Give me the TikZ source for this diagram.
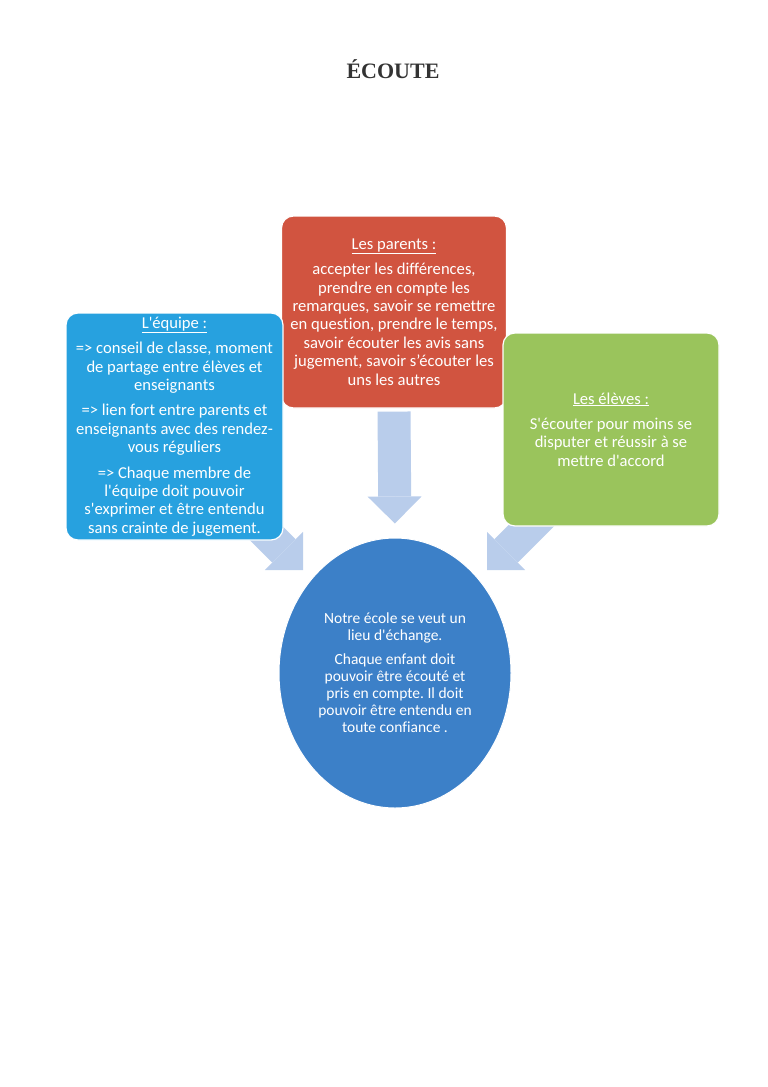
\documentclass[tikz,border=0pt]{standalone}
\usepackage{fontspec}
\setmainfont{Liberation Serif}
\newfontfamily\cf{Carlito}[Ligatures={TeXOff,CommonOff}]
\usetikzlibrary{shapes.geometric,arrows.meta,backgrounds}
\frenchspacing
\definecolor{arrowblue}{HTML}{B9CDEB}
\definecolor{boxblue}{HTML}{27A1DF}
\definecolor{boxred}{HTML}{D15440}
\definecolor{boxgreen}{HTML}{9AC45C}
\definecolor{ellblue}{HTML}{3C80C8}
\definecolor{titlegray}{HTML}{333333}
\tikzset{
  box/.style={draw=white, line width=1.2pt, rounded corners=12pt, text=white,
    align=center, inner sep=0pt,
    font=\cf\frenchspacing\fontsize{16.6}{18.4}\selectfont},
  ellbox/.style={ellipse, draw=white, line width=1pt, fill=ellblue, text=white,
    align=center, inner sep=0pt,
    font=\cf\frenchspacing\fontsize{15.5}{17}\selectfont},
  bigarrow/.style={draw=arrowblue, line width=33pt,
    -{Triangle[width=54pt 0 0, length=27pt 0 0, line width=0pt]}},
}
\begin{document}
\begin{tikzpicture}[x=1pt,y=-1pt]
\useasboundingbox (0,0) rectangle (768,1087);
\node[anchor=base, text=titlegray, font=\bfseries\fontsize{22}{26}\selectfont] (title) at (393,78) {ÉCOUTE};

\node[box, fill=boxred, minimum width=225pt, minimum height=192pt] (parents) at (394,312)
{\underline{Les parents :}\\[7pt]
accepter les différences,\\
prendre en compte les\\
remarques, savoir se remettre\\
en question, prendre le temps,\\
savoir écouter les avis sans\\
jugement, savoir s’écouter les\\
uns les autres};

\node[box, fill=boxblue, minimum width=217pt, minimum height=227pt] (equipe) at (174.5,426.5)
{\underline{L'équipe :}\\[7pt]
=> conseil de classe, moment\\
de partage entre élèves et\\
enseignants\\[7pt]
=> lien fort entre parents et\\
enseignants avec des rendez-\\
vous réguliers\\[7pt]
=> Chaque membre de\\
l'équipe doit pouvoir\\
s'exprimer et être entendu\\
sans crainte de jugement.};

\node[box, fill=boxgreen, minimum width=216pt, minimum height=193pt] (eleves) at (611,429.5)
{\underline{Les élèves :}\\[7pt]
S'écouter pour moins se\\
disputer et réussir à se\\
mettre d'accord};

\node[ellbox, minimum width=232pt, minimum height=270pt] (ecole) at (395,673)
{Notre école se veut un\\
lieu d'échange.\\[7pt]
Chaque enfant doit\\
pouvoir être écouté et\\
pris en compte. Il doit\\
pouvoir être entendu en\\
toute confiance .};

\coordinate (ltail) at (240,507);
\coordinate (ltip) at (303,570);
\coordinate (rtail) at (545,512);
\coordinate (rtip) at (487,570);

\begin{scope}[on background layer]
\draw[bigarrow, shorten <=3pt, shorten >=14pt] (parents.south) -- (ecole.north);
\draw[bigarrow] (ltail) -- (ltip);
\draw[bigarrow] (rtail) -- (rtip);
\end{scope}
\end{tikzpicture}
\end{document}
